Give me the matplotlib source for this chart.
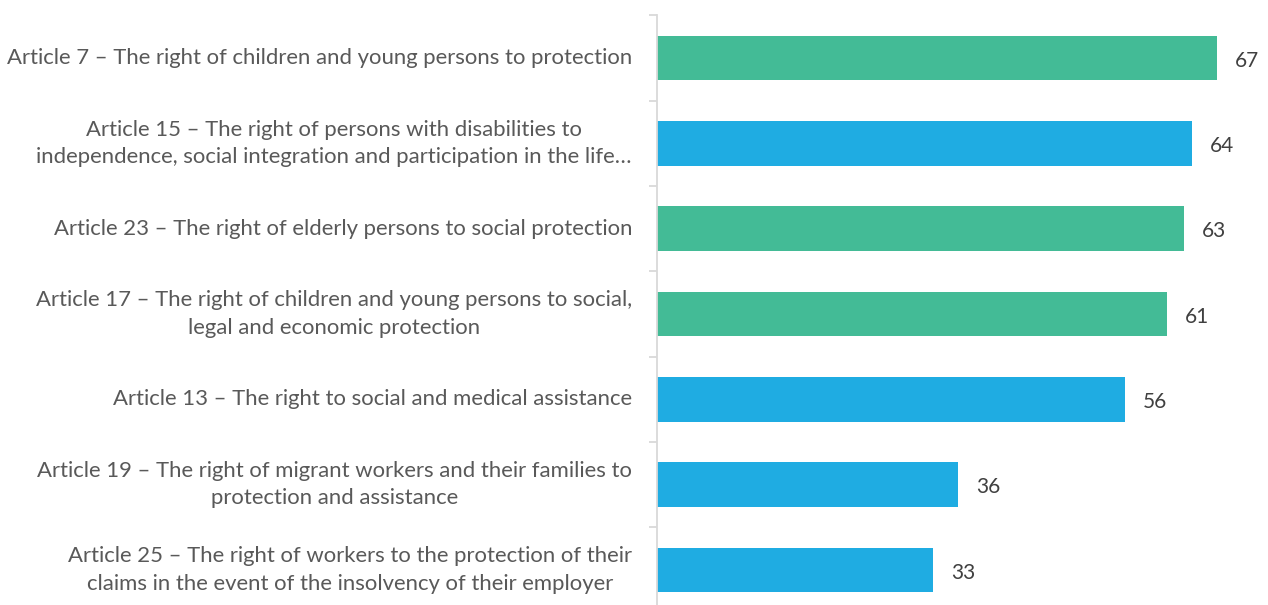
import matplotlib.pyplot as plt

# data (top to bottom)
labels = [
    "Article 7 \u2013 The right of children and young persons to protection",
    "Article 15 \u2013 The right of persons with disabilities to\nindependence, social integration and participation in the life\u2026",
    "Article 23 \u2013 The right of elderly persons to social protection",
    "Article 17 \u2013 The right of children and young persons to social,\nlegal and economic protection",
    "Article 13 \u2013 The right to social and medical assistance",
    "Article 19 \u2013 The right of migrant workers and their families to\nprotection and assistance",
    "Article 25 \u2013 The right of workers to the protection of their\nclaims in the event of the insolvency of their employer",
]
values = [67, 64, 63, 61, 56, 36, 33]
groups = ["green", "blue", "green", "green", "blue", "blue", "blue"]

colors = {"green": "#43BB96", "blue": "#1FACE2"}

plt.rcParams['font.family'] = ['Lato', 'DejaVu Sans']

fig = plt.figure(figsize=(12.68, 6.05), dpi=100)
# axes placed in pixels of the reference
W, H = 1268, 605
left, right = 657, 1268
top, bottom = 15.3, 612.7
ax = fig.add_axes([left / W, (H - bottom) / H, (right - left) / W, (bottom - top) / H])

n = len(values)
ypos = list(range(n))
ax.barh(ypos, values, height=0.52, color=[colors[g] for g in groups])
ax.set_ylim(n - 0.5, -0.5)
ax.set_xlim(0, (right - left) / (560 / 67))

for y, v in zip(ypos, values):
    ax.text(v + 2.15, y + 0.03, str(v), va='center', ha='left', fontsize=15, color='#404040')

ax.set_yticks(ypos)
ax.set_yticklabels(labels, fontsize=15.9, color='#595959', multialignment='center')
ax.set_yticks([i - 0.5 for i in range(n + 1)], minor=True)
ax.tick_params(axis='y', which='major', length=0, pad=18)
ax.tick_params(axis='y', which='minor', length=6, width=1.3, color='#D9D9D9')
for lbl in ax.get_yticklabels():
    lbl.set_linespacing(1.45)
    lbl.set_verticalalignment('center')

ax.set_xticks([])
for s in ['top', 'right', 'bottom']:
    ax.spines[s].set_visible(False)
ax.spines['left'].set_color('#D9D9D9')
ax.spines['left'].set_linewidth(1.3)

fig.savefig('out.png', dpi=100)
